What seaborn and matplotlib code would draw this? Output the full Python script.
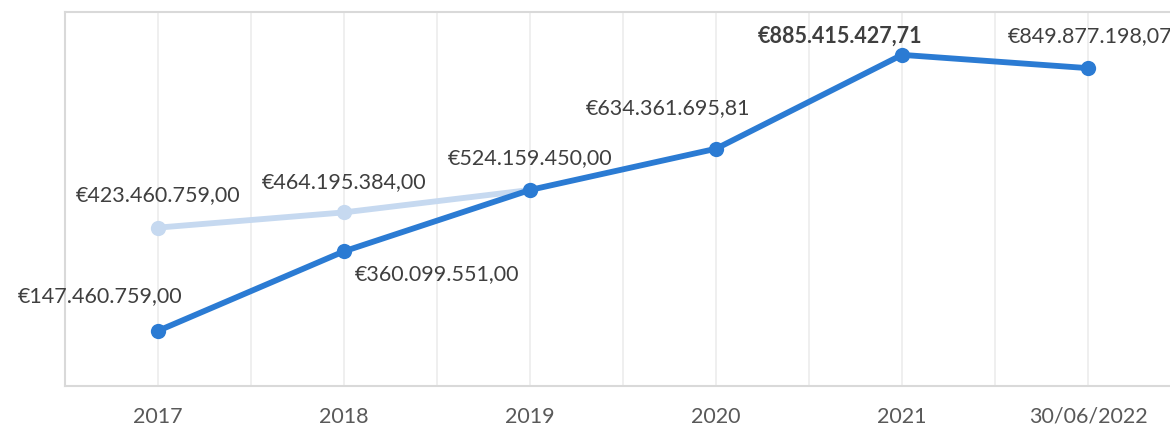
import pandas as pd
import numpy as np
import matplotlib
matplotlib.use("Agg")
import matplotlib.pyplot as plt
import seaborn as sns

# dados
categorias = ["2017", "2018", "2019", "2020", "2021", "30/06/2022"]
valores_real = [147460759.00, 360099551.00, 524159450.00, 634361695.81, 885415427.71, 849877198.07]
valores_prev = [423460759.00, 464195384.00, 524159450.00]

rotulos_real = ["€147.460.759,00", "€360.099.551,00", "€524.159.450,00",
                "€634.361.695,81", "€885.415.427,71", "€849.877.198,07"]
rotulos_prev = ["€423.460.759,00", "€464.195.384,00", None]

sns.set_theme(style="white")
plt.rcParams["font.family"] = ["Lato", "DejaVu Sans"]

AZUL = "#2b7bd3"
AZUL_CLARO = "#c6d9f0"
TEXTO = "#3f3f3f"

df_real = pd.DataFrame({"pos": range(len(valores_real)), "valor": valores_real})
df_prev = pd.DataFrame({"pos": range(len(valores_prev)), "valor": valores_prev})

fig = plt.figure(figsize=(11.7, 4.29), dpi=100)
ax = fig.add_axes([65 / 1170, 43 / 429, 1116 / 1170, 374 / 429])

sns.lineplot(data=df_prev, x="pos", y="valor", ax=ax, color=AZUL_CLARO, linewidth=4.2,
             marker="o", markersize=11, markeredgewidth=0, zorder=3)
sns.lineplot(data=df_real, x="pos", y="valor", ax=ax, color=AZUL, linewidth=4.2,
             marker="o", markersize=11, markeredgewidth=0, zorder=4)

ax.set_xlim(-0.5, len(categorias) - 0.5)
ax.set_ylim(0, 1e9)
ax.set_xticks(range(len(categorias)))
ax.set_xticklabels(categorias, fontsize=15.5, color="#595959")
ax.set_yticks([])
ax.set_xlabel("")
ax.set_ylabel("")
ax.tick_params(axis="x", length=0, pad=15)

# linhas de grade verticais (categorias e meios)
for g in np.arange(0, len(categorias), 0.5):
    ax.axvline(g, color="#ececec", linewidth=1.2, zorder=0)

for lado in ax.spines.values():
    lado.set_color("#d9d9d9")
    lado.set_linewidth(1.5)

# posicoes dos rotulos (pixels)
desloc_real = [(-58, 35), (93, -23), (0, 32), (-48, 41), (-62, 19), (2, 32)]
desloc_prev = [(0, 33), (0, 30), None]

for i, (v, r) in enumerate(zip(valores_real, rotulos_real)):
    peso = "bold" if i == 4 else "normal"
    ax.annotate(r, (i, v), xytext=desloc_real[i], textcoords="offset pixels",
                ha="center", va="center", fontsize=15.5, color=TEXTO, fontweight=peso)

for i, (v, r) in enumerate(zip(valores_prev, rotulos_prev)):
    if r is None:
        continue
    ax.annotate(r, (i, v), xytext=desloc_prev[i], textcoords="offset pixels",
                ha="center", va="center", fontsize=15.5, color=TEXTO)

fig.savefig("out.png", dpi=100)
